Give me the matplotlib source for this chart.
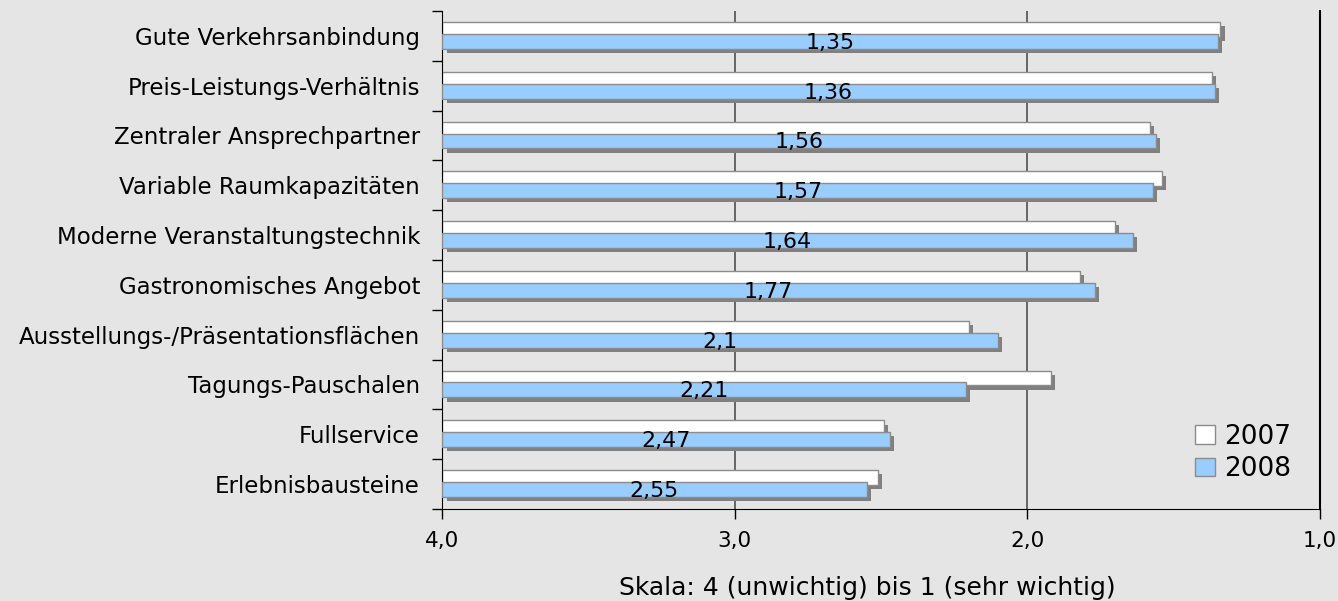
import matplotlib
matplotlib.use("Agg")
import matplotlib.pyplot as plt
import matplotlib.patheffects as pe
from matplotlib.patches import Patch
from matplotlib.ticker import FixedLocator

# Bewertung der Kriterien, Skala 4 (unwichtig) bis 1 (sehr wichtig)
kriterien = [
    "Gute Verkehrsanbindung",
    "Preis-Leistungs-Verhältnis",
    "Zentraler Ansprechpartner",
    "Variable Raumkapazitäten",
    "Moderne Veranstaltungstechnik",
    "Gastronomisches Angebot",
    "Ausstellungs-/Präsentationsflächen",
    "Tagungs-Pauschalen",
    "Fullservice",
    "Erlebnisbausteine",
]
werte_2007 = [1.34, 1.37, 1.58, 1.54, 1.70, 1.82, 2.20, 1.92, 2.49, 2.51]
werte_2008 = [1.35, 1.36, 1.56, 1.57, 1.64, 1.77, 2.10, 2.21, 2.47, 2.55]
x_ticks = [4.0, 3.0, 2.0, 1.0]

BG = "#e4e5e4"
BLAU = "#99ccff"
RAND = "#8c8c8c"
SCHATTEN = "#808080"

plt.rcParams["font.family"] = "DejaVu Sans"

fig = plt.figure(figsize=(13.38, 6.01), dpi=100, facecolor=BG)
ax = fig.add_axes([0.3306, 0.1531, 0.6559, 0.8286], facecolor=BG)

schatten = [pe.SimplePatchShadow(offset=(3, -3), shadow_rgbFace=SCHATTEN, alpha=1.0), pe.Normal()]

pos = list(range(len(kriterien)))
h = 0.3
b07 = ax.barh([p - 0.13 for p in pos], [v - 4 for v in werte_2007], left=4, height=h,
              color="white", edgecolor=RAND, linewidth=1, zorder=2)
b08 = ax.barh([p + 0.11 for p in pos], [v - 4 for v in werte_2008], left=4, height=h,
              color=BLAU, edgecolor=RAND, linewidth=1, zorder=3)
for r in list(b07) + list(b08):
    r.set_path_effects(schatten)

# Werte 2008 mittig in den Balken
for p, v in zip(pos, werte_2008):
    txt = ("%g" % v).replace(".", ",")
    ax.text((4 + v) / 2, p + 0.14, txt, ha="center", va="center",
            fontsize=15.9, zorder=5)

ax.set_xlim(4, 1)
ax.set_ylim(len(kriterien) - 0.5, -0.5)

ax.set_xticks(x_ticks)
ax.set_xticklabels([("%.1f" % t).replace(".", ",") for t in x_ticks], fontsize=15.5)
ax.tick_params(axis="x", length=7, width=1, pad=9, color="black")

ax.set_yticks(pos)
ax.set_yticklabels(kriterien, fontsize=16.5)
ax.tick_params(axis="y", which="major", length=0, pad=16)
ax.yaxis.set_minor_locator(FixedLocator([p - 0.5 for p in range(len(kriterien) + 1)]))
ax.tick_params(axis="y", which="minor", length=7, width=1, color="black")

ax.grid(axis="x", color="#505050", linewidth=1.2)
ax.set_axisbelow(True)
ax.spines["top"].set_visible(False)
ax.spines["right"].set_color("black")
ax.spines["right"].set_linewidth(1.5)

fig.text(867 / 1338, 1 - 588 / 601, "Skala: 4 (unwichtig) bis 1 (sehr wichtig)",
         ha="center", va="center", fontsize=18)

handles = [Patch(facecolor="white", edgecolor=RAND), Patch(facecolor=BLAU, edgecolor=RAND)]
fig.legend(handles, ["2007", "2008"], loc="center left",
           bbox_to_anchor=(1195 / 1338, 1 - 453 / 601), frameon=False, fontsize=19,
           handlelength=0.75, handleheight=0.7, handletextpad=0.35, labelspacing=0.25,
           borderpad=0, borderaxespad=0)

fig.savefig("out.png", dpi=100, facecolor=BG)
